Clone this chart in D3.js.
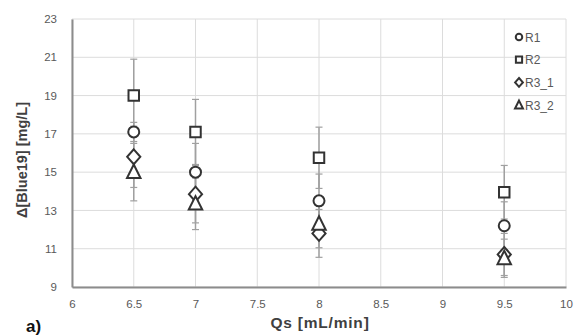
<!DOCTYPE html>
<html>
<head>
<meta charset="utf-8">
<script src="https://cdn.jsdelivr.net/npm/d3@7/dist/d3.min.js"></script>
<style>
  body { margin: 0; background: #fff; }
  text { font-family: "Liberation Sans", Arial, sans-serif; }
</style>
</head>
<body>
<svg id="chart" width="578" height="336"></svg>
<script>
const flows = [6.5, 7, 8, 9.5]
const seriesNames = ["R1", "R2", "R3_1", "R3_2"]
const r1 = [17.1, 15.0, 13.5, 12.2]
const r2 = [19.0, 17.1, 15.75, 13.95]
const r3_1 = [15.8, 13.85, 11.8, 10.7]
const r3_2 = [15.0, 13.35, 12.3, 10.5]
const r1Err = [0.5, 1.5, 1.4, 1.25]
const r2Err = [1.9, 1.7, 1.6, 1.4]
const r3_1Err = [1.6, 1.5, 1.25, 1.1]
const r3_2Err = [1.5, 1.35, 1.25, 1.0]
const xTicks = [6, 6.5, 7, 7.5, 8, 8.5, 9, 9.5, 10]
const yTicks = [9, 11, 13, 15, 17, 19, 21, 23]

const margin = { left: 72, right: 12, top: 19, bottom: 49 }
const W = 578, H = 336
const svg = d3.select("#chart")

const x = d3.scaleLinear().domain([6, 10]).range([margin.left, W - margin.right])
const y = d3.scaleLinear().domain([9, 23]).range([H - margin.bottom, margin.top])

// custom marker shapes
const diamond = {
  draw(ctx, size) {
    const hw = Math.sqrt(size) * 0.6, hh = Math.sqrt(size) * 0.68
    ctx.moveTo(0, -hh); ctx.lineTo(hw, 0); ctx.lineTo(0, hh); ctx.lineTo(-hw, 0); ctx.closePath()
  }
}
const triangle = {
  draw(ctx, size) {
    const s = Math.sqrt(size)
    ctx.moveTo(0, -s * 0.62); ctx.lineTo(s * 0.55, s * 0.48); ctx.lineTo(-s * 0.55, s * 0.48); ctx.closePath()
  }
}
const shapes = [d3.symbolCircle, d3.symbolSquare, diamond, triangle]
const sizes = [95, 110, 120, 150]

const series = [
  { name: seriesNames[0], values: r1, err: r1Err },
  { name: seriesNames[1], values: r2, err: r2Err },
  { name: seriesNames[2], values: r3_1, err: r3_1Err },
  { name: seriesNames[3], values: r3_2, err: r3_2Err }
]

// gridlines
const grid = svg.append("g")
grid.selectAll("line.gy").data(yTicks).join("line")
  .attr("x1", margin.left).attr("x2", W - margin.right)
  .attr("y1", (d) => y(d)).attr("y2", (d) => y(d))
  .attr("stroke", "#dcdcdc").attr("stroke-width", 1)
grid.selectAll("line.gx").data(xTicks).join("line")
  .attr("y1", margin.top).attr("y2", H - margin.bottom)
  .attr("x1", (d) => x(d)).attr("x2", (d) => x(d))
  .attr("stroke", "#dcdcdc").attr("stroke-width", 1)

// axes
const xAxis = svg.append("g")
  .attr("transform", `translate(0,${H - margin.bottom})`)
  .call(d3.axisBottom(x).tickValues(xTicks).tickSize(0).tickPadding(13).tickFormat(d3.format("")))
const yAxis = svg.append("g")
  .attr("transform", `translate(${margin.left},0)`)
  .call(d3.axisLeft(y).tickValues(yTicks).tickSize(0).tickPadding(15))
;[xAxis, yAxis].forEach((a) => {
  a.select(".domain").attr("stroke", "#8c8c8c").attr("stroke-width", 2)
  a.selectAll("text").attr("fill", "#595959").style("font-size", "11.5px")
    .style("font-family", "'Liberation Sans', Arial, sans-serif")
})

// error bars
const bars = svg.append("g")
series.forEach((s) => {
  const g = bars.append("g")
  flows.forEach((f, i) => {
    const cx = x(f), lo = y(s.values[i] - s.err[i]), hi = y(s.values[i] + s.err[i])
    g.append("line").attr("x1", cx).attr("x2", cx).attr("y1", lo).attr("y2", hi)
      .attr("stroke", "#a0a0a0").attr("stroke-width", 1.5)
    ;[lo, hi].forEach((yy) => {
      g.append("line").attr("x1", cx - 3.5).attr("x2", cx + 3.5).attr("y1", yy).attr("y2", yy)
        .attr("stroke", "#a0a0a0").attr("stroke-width", 1.2)
    })
  })
})

// markers
series.forEach((s, k) => {
  svg.append("g").selectAll("path").data(s.values).join("path")
    .attr("transform", (d, i) => `translate(${x(flows[i])},${y(d)})`)
    .attr("d", d3.symbol().type(shapes[k]).size(sizes[k]))
    .attr("fill", "#fff").attr("stroke", "#333").attr("stroke-width", 2)
})

// legend
const legend = svg.append("g").attr("transform", "translate(519,37)")
series.forEach((s, k) => {
  const row = legend.append("g").attr("transform", `translate(0,${k * 22.7})`)
  row.append("path").attr("d", d3.symbol().type(shapes[k]).size(sizes[k] * 0.35))
    .attr("fill", "#fff").attr("stroke", "#333").attr("stroke-width", 2)
  row.append("text").attr("x", 6).attr("y", 4.5).attr("fill", "#595959")
    .style("font-size", "12px").text(s.name)
})

// titles
svg.append("text").attr("x", 320).attr("y", 328).attr("text-anchor", "middle")
  .attr("fill", "#404040").style("font-size", "15.5px").style("font-weight", "bold")
  .style("letter-spacing", "0.8px")
  .text("Qs [mL/min]")
svg.append("text").attr("transform", `translate(27,160) rotate(-90)`)
  .attr("text-anchor", "middle").attr("fill", "#404040")
  .style("font-size", "14.5px").style("font-weight", "bold")
  .text("Δ[Blue19] [mg/L]")
svg.append("text").attr("x", 26).attr("y", 332).attr("fill", "#111")
  .style("font-size", "17px").style("font-weight", "bold").text("a)")
</script>
</body>
</html>
